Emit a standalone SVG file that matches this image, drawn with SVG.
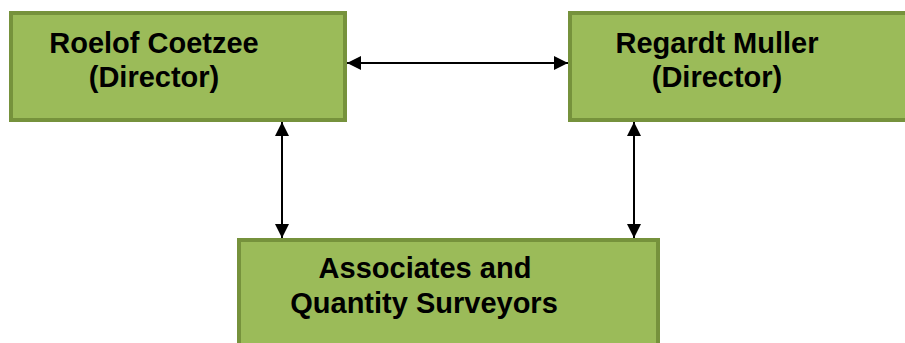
<svg xmlns="http://www.w3.org/2000/svg" width="905" height="343" viewBox="0 0 905 343">
  <style>
    .box { fill: #9BBB59; stroke: #76923C; stroke-width: 4; }
    .label { font-family: "Liberation Sans", Arial, sans-serif; font-weight: bold; font-size: 29px; fill: #000; text-anchor: middle; }
    .link { stroke: #000; stroke-width: 2; fill: none; marker-start: url(#head); marker-end: url(#head); }
  </style>
  <defs>
    <marker id="head" viewBox="0 0 14 14" refX="14" refY="7" markerWidth="14" markerHeight="14" markerUnits="userSpaceOnUse" orient="auto-start-reverse">
      <path d="M0,0 L14,7 L0,14 z" fill="#000"/>
    </marker>
  </defs>
  <rect width="905" height="343" fill="#fff"/>

  <g id="connectors">
    <line class="link" x1="347" y1="63" x2="568" y2="63"/>
    <line class="link" x1="282" y1="122" x2="282" y2="238"/>
    <line class="link" x1="634" y1="122" x2="634" y2="238"/>
  </g>

  <g id="roelof">
    <rect class="box" x="11" y="13" width="334" height="107"/>
    <text class="label" x="154" y="53">Roelof Coetzee</text>
    <text class="label" x="154" y="87">(Director)</text>
  </g>

  <g id="regardt">
    <rect class="box" x="570" y="13" width="345" height="107"/>
    <text class="label" x="717" y="53">Regardt Muller</text>
    <text class="label" x="717" y="87">(Director)</text>
  </g>

  <g id="associates">
    <rect class="box" x="239" y="240" width="419" height="120"/>
    <text class="label" x="425" y="278">Associates and</text>
    <text class="label" x="424" y="313">Quantity Surveyors</text>
  </g>
</svg>
